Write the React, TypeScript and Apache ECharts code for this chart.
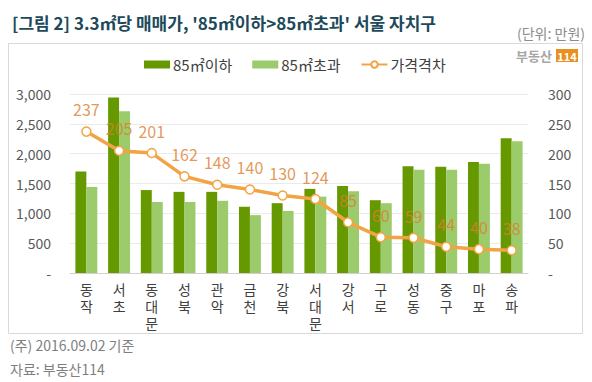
import React, { useEffect, useRef } from "react";
import * as echarts from "echarts";

const categories = ["동작", "서초", "동대문", "성북", "관악", "금천", "강북", "서대문", "강서", "구로", "성동", "중구", "마포", "송파"];
const under85 = [1700, 2940, 1390, 1360, 1360, 1110, 1170, 1410, 1460, 1220, 1790, 1780, 1860, 2260];
const over85 = [1440, 2710, 1190, 1190, 1210, 970, 1040, 1280, 1370, 1170, 1730, 1730, 1830, 2210];
const priceGap = [237, 205, 201, 162, 148, 140, 130, 124, 85, 60, 59, 44, 40, 38];

const seriesNames = ["85㎡이하", "85㎡초과", "가격격차"];
const titleText = "[그림 2] 3.3㎡당 매매가, '85㎡이하>85㎡초과' 서울 자치구";
const unitText = "(단위: 만원)";
const noteText = "(주) 2016.09.02 기준";
const sourceText = "자료: 부동산114";

const FONT = "'Noto Sans CJK KR', 'Noto Sans', sans-serif";

export default function App() {
  const ref = useRef<HTMLDivElement>(null);
  useEffect(() => {
    if (!ref.current) return;
    const chart = echarts.init(ref.current, null, { renderer: "svg" });
    const fmtLeft = (v: number) => (v === 0 ? "-" : v.toLocaleString("en-US"));
    const fmtRight = (v: number) => (v === 0 ? "-" : String(v));
    chart.setOption({
      animation: false,
      backgroundColor: "#ffffff",
      textStyle: { fontFamily: FONT },
      graphic: [
        {
          type: "rect",
          shape: { x: 8.5, y: 43.5, width: 574, height: 290 },
          style: { fill: "none", stroke: "#d9d9d9", lineWidth: 1 },
          silent: true,
        },
        {
          type: "text",
          x: 12,
          y: 22,
          style: {
            text: titleText,
            fontFamily: FONT,
            fontSize: 17,
            fontWeight: "bold",
            fill: "#1d4a5a",
            textVerticalAlign: "middle",
            verticalAlign: "middle",
          },
        },
        {
          type: "text",
          x: 585,
          y: 33,
          style: {
            text: unitText,
            fontFamily: FONT,
            fontSize: 14,
            fill: "#8c8c8c",
            align: "right",
            verticalAlign: "middle",
          },
        },
        {
          type: "text",
          x: 552,
          y: 55,
          style: {
            text: "부동산",
            fontFamily: FONT,
            fontSize: 13,
            fontWeight: "bold",
            fill: "#a6a6a6",
            align: "right",
            verticalAlign: "middle",
          },
        },
        {
          type: "rect",
          shape: { x: 556, y: 49, width: 22, height: 13 },
          style: { fill: "#e8911f" },
        },
        {
          type: "text",
          x: 567,
          y: 55.5,
          style: {
            text: "114",
            fontFamily: FONT,
            fontSize: 11,
            fontWeight: "bold",
            fill: "#ffffff",
            align: "center",
            verticalAlign: "middle",
          },
        },
        {
          type: "text",
          x: 10,
          y: 345,
          style: { text: noteText, fontFamily: FONT, fontSize: 14, fill: "#7f7f7f", verticalAlign: "middle" },
        },
        {
          type: "text",
          x: 10,
          y: 369,
          style: { text: sourceText, fontFamily: FONT, fontSize: 14, fill: "#7f7f7f", verticalAlign: "middle" },
        },
      ],
      legend: {
        left: 139,
        top: 52,
        itemWidth: 26,
        itemHeight: 8,
        itemGap: 20,
        textStyle: { fontFamily: FONT, fontSize: 15, color: "#404040", padding: [0, 0, 0, -2] },
        data: [
          { name: seriesNames[0], icon: "rect" },
          { name: seriesNames[1], icon: "rect" },
          { name: seriesNames[2] },
        ],
      },
      grid: { left: 70, right: 64, top: 94, bottom: 109 },
      xAxis: {
        type: "category",
        data: categories,
        axisLine: { lineStyle: { color: "#d0d0d0", width: 1 } },
        axisTick: { show: false },
        axisLabel: {
          interval: 0,
          margin: 7,
          fontFamily: FONT,
          fontSize: 14,
          lineHeight: 17,
          color: "#404040",
          formatter: (v: string) => v.split("").join("\n"),
        },
      },
      yAxis: [
        {
          type: "value",
          min: 0,
          max: 3000,
          interval: 500,
          axisLine: { show: false },
          axisTick: { show: false },
          splitLine: { lineStyle: { color: "#ebebeb", width: 1 } },
          axisLabel: { margin: 19, fontFamily: FONT, fontSize: 14, color: "#595959", formatter: fmtLeft },
        },
        {
          type: "value",
          min: 0,
          max: 300,
          interval: 50,
          axisLine: { show: false },
          axisTick: { show: false },
          splitLine: { show: false },
          axisLabel: { margin: 20, fontFamily: FONT, fontSize: 14, color: "#595959", formatter: fmtRight },
        },
      ],
      series: [
        {
          name: seriesNames[0],
          type: "bar",
          data: under85,
          barGap: "0%",
          barCategoryGap: "33%",
          itemStyle: { color: "#669900" },
        },
        {
          name: seriesNames[1],
          type: "bar",
          data: over85,
          itemStyle: { color: "#9bcb6b" },
        },
        {
          name: seriesNames[2],
          type: "line",
          yAxisIndex: 1,
          data: priceGap,
          symbol: "circle",
          symbolSize: 9,
          lineStyle: { color: "#f2a444", width: 3.5 },
          itemStyle: { color: "#ffffff", borderColor: "#f2a444", borderWidth: 1.5 },
          label: {
            show: true,
            position: "top",
            distance: 9,
            fontFamily: FONT,
            fontSize: 16,
            color: "rgba(220,126,46,0.8)",
          },
          z: 5,
        },
      ],
    });
    return () => chart.dispose();
  }, []);
  return <div ref={ref} style={{ position: "fixed", left: 0, top: 0, width: 592, height: 382 }} />;
}
